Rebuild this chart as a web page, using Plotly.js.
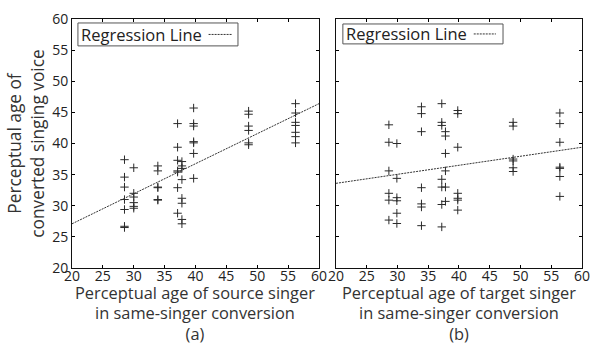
<!DOCTYPE html>
<html>
<head>
<meta charset="utf-8">
<script src="https://cdn.plot.ly/plotly-3.0.1.min.js"></script>
<style>html,body{margin:0;padding:0;background:#fff;}#chart{width:590px;height:343px;}</style>
</head>
<body>
<div id="chart"></div>
<script>
// Panel (a): perceptual age of source singer vs converted voice
var srcAgeX = [
  28.5,28.5,28.5,28.5,28.5,28.5,28.5,
  30,30,30,30,30,30,
  33.9,33.9,33.9,33.9,33.9,33.9,
  37.1,37.1,37.1,37.1,37.1,37.1,37.1,
  37.8,37.8,37.8,37.8,37.8,37.8,37.8,37.8,
  39.7,39.7,39.7,39.7,39.7,39.7,39.7,
  48.6,48.6,48.6,48.6,48.6,48.6,
  56.2,56.2,56.2,56.2,56.2,56.2,56.2
];
var convAgeA = [
  37.4,34.6,33.0,31.0,29.4,26.7,26.5,
  36.1,32.0,31.4,30.5,29.9,29.6,
  36.4,35.6,33.0,32.9,31.0,30.9,
  43.2,39.4,37.3,35.6,35.4,32.9,28.8,
  37.1,36.4,36.0,34.2,31.2,30.4,27.8,27.1,
  45.7,43.2,42.8,40.3,40.1,38.4,34.4,
  45.2,44.7,42.8,42.1,40.1,39.8,
  46.4,44.9,43.4,42.9,41.8,41.1,40.1
];
// Panel (b): perceptual age of target singer vs converted voice
var tgtAgeX = [
  28.6,28.6,28.6,28.6,28.6,28.6,
  29.9,29.9,29.9,29.9,29.9,29.9,
  33.9,33.9,33.9,33.9,33.9,33.9,33.9,
  37.2,37.2,37.2,37.2,37.2,37.2,37.2,
  37.8,37.8,37.8,37.8,37.8,37.8,
  39.8,39.8,39.8,39.8,39.8,39.8,39.8,
  48.8,48.8,48.8,48.8,48.8,48.8,
  56.4,56.4,56.4,56.4,56.4,56.4,56.4
];
var convAgeB = [
  43.0,40.2,35.6,32.0,30.9,27.7,
  40.0,34.4,31.3,30.8,28.8,27.15,
  45.9,44.8,41.9,32.9,30.3,29.8,26.8,
  46.4,43.4,42.9,34.25,33.0,30.2,26.6,
  41.9,41.2,38.4,35.6,33.0,30.7,
  45.3,44.8,39.4,32.0,31.2,30.9,29.3,
  43.4,42.8,37.5,37.2,36.1,35.5,
  44.9,43.2,40.2,36.2,36.0,34.7,31.5
];
// Regression lines (endpoints)
var regX = [20, 60];
var regA = [27.1, 46.4];
var regB = [33.6, 39.4];
var tickVals = [20,25,30,35,40,45,50,55,60];
var legendLabel = 'Regression Line';
var xTitleALines = ['Perceptual age of source singer', 'in same-singer conversion', '(a)'];
var xTitleBLines = ['Perceptual age of target singer', 'in same-singer conversion', '(b)'];
var yTitle = 'Perceptual age of<br>converted singing voice';

var FONT = 'Open Sans, sans-serif';
var markerStyle = {symbol:'cross-thin', size:6, line:{width:1, color:'#2a2a2a'}, color:'#2a2a2a'};
var regLine = {color:'#333', width:1, dash:'2px,1px'};

var traces = [
  {x:srcAgeX, y:convAgeA, type:'scatter', mode:'markers', marker:markerStyle, xaxis:'x', yaxis:'y', showlegend:false},
  {x:regX, y:regA, type:'scatter', mode:'lines', line:regLine, xaxis:'x', yaxis:'y', name:legendLabel, showlegend:false},
  {x:tgtAgeX, y:convAgeB, type:'scatter', mode:'markers', marker:markerStyle, xaxis:'x2', yaxis:'y2', showlegend:false},
  {x:regX, y:regB, type:'scatter', mode:'lines', line:regLine, xaxis:'x2', yaxis:'y2', name:legendLabel, showlegend:false}
];

// tight line spacing: the text element uses a smaller size (line pitch), the glyphs a larger span size
function tightTitle(lines){
  return lines.map(function(s){ return '<span style="font-size:16.4px">' + s + '</span>'; }).join('<br>');
}
// x-axis titles as annotations under each panel (free vertical placement)
function xTitleAnn(xr, yr, lines){
  return {xref:xr+' domain', yref:yr+' domain', x:0.5, y:0, xanchor:'center', yanchor:'top', yshift:-11,
    showarrow:false, align:'center', text:tightTitle(lines), font:{family:FONT, size:15.6, color:'#333'}};
}

function xa(domain){
  return {domain:domain, range:[20,60], tickvals:tickVals, ticks:'inside', ticklen:3, tickcolor:'#000',
    showline:true, linecolor:'#111', linewidth:1, mirror:'ticks', showgrid:false, zeroline:false,
    ticklabelstandoff:-5, ticklabeloverflow:'allow',
    tickfont:{family:FONT, size:14, color:'#222'}};
}
function ya(anchor, labels, title){
  var o = {domain:[0,1], range:[20,60], tickvals:tickVals, ticks:'inside', ticklen:3, tickcolor:'#000',
    showline:true, linecolor:'#111', linewidth:1, mirror:'ticks', showgrid:false, zeroline:false,
    anchor:anchor, showticklabels:labels, tickfont:{family:FONT, size:14, color:'#222'}};
  if (title) o.title = {text:title, font:{family:FONT, size:17.3, color:'#333'}, standoff:3};
  return o;
}

// hand-drawn legend boxes (legend symbol sits to the right of the label, as in the reference)
function legendParts(xr, yr, x0, x1, y0, y1, s0, s1){
  var ym = (y0 + y1) / 2;
  return {
    shapes:[
      {type:'rect', xref:xr+' domain', yref:yr+' domain', x0:x0, x1:x1, y0:y0, y1:y1, line:{color:'#555', width:1}, fillcolor:'#fff', layer:'above'},
      {type:'line', xref:xr+' domain', yref:yr+' domain', x0:s0, x1:s1, y0:ym, y1:ym, line:regLine, layer:'above'}
    ],
    ann:{xref:xr+' domain', yref:yr+' domain', x:x0+0.004, y:ym, xanchor:'left', yanchor:'middle', showarrow:false,
      text:legendLabel, font:{family:FONT, size:16.5, color:'#222'}}
  };
}
var la = legendParts('x', 'y', 0.024, 0.672, 0.892, 0.984, 0.553, 0.65);
var lb = legendParts('x2', 'y2', 0.028, 0.679, 0.90, 0.98, 0.56, 0.65);

var layout = {
  width:590, height:343,
  margin:{l:72, r:8, t:19, b:75},
  paper_bgcolor:'#fff', plot_bgcolor:'#fff',
  font:{family:FONT, color:'#222'},
  showlegend:false,
  xaxis: xa([0, 0.4843]),
  xaxis2: xa([0.5176, 1]),
  yaxis: ya('x', true, yTitle),
  yaxis2: ya('x2', false, null),
  shapes: la.shapes.concat(lb.shapes),
  annotations: [la.ann, lb.ann, xTitleAnn('x', 'y', xTitleALines), xTitleAnn('x2', 'y2', xTitleBLines)]
};

Plotly.newPlot('chart', traces, layout, {staticPlot:true, displayModeBar:false});
</script>
</body>
</html>
